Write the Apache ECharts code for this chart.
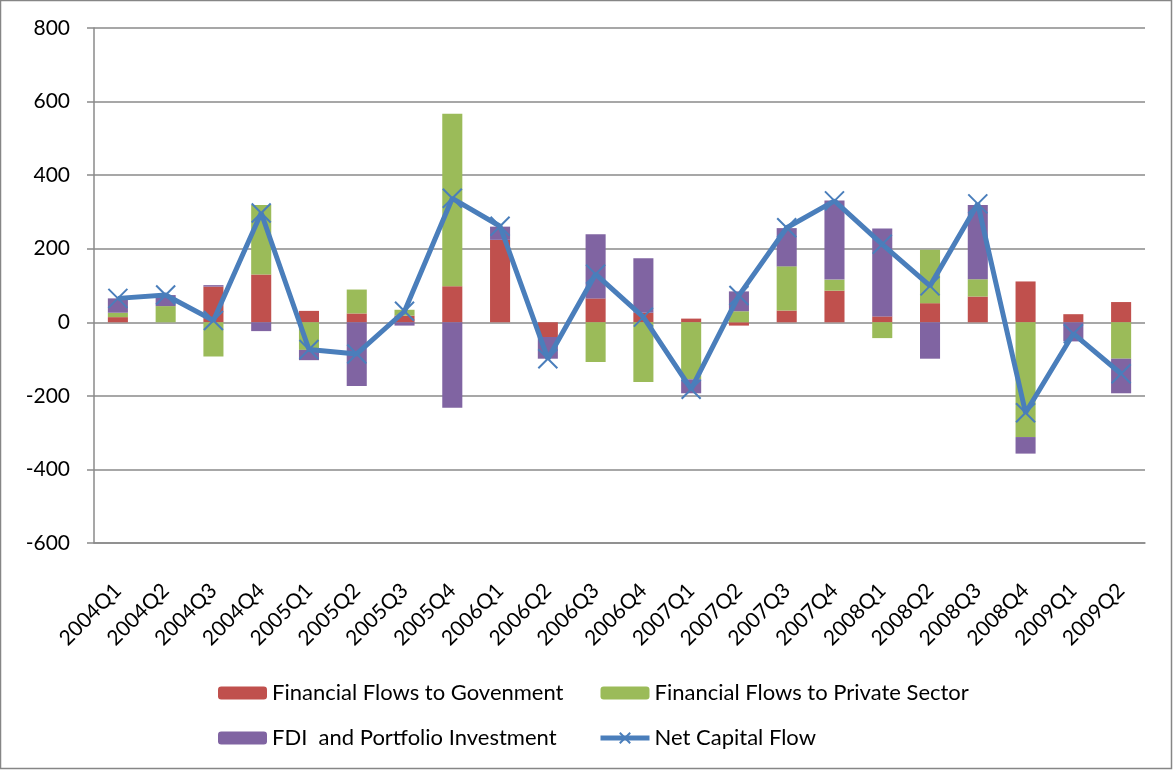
<!DOCTYPE html>
<html>
<head>
<meta charset="utf-8">
<script src="https://cdn.jsdelivr.net/npm/echarts@6/dist/echarts.min.js"></script>
<style>
  html, body { margin: 0; padding: 0; background: #fff; }
  #chart { width: 1173px; height: 770px; }
</style>
</head>
<body>
<div id="chart"></div>
<script>
// Quarterly capital flows, 2004Q1 – 2009Q2
const quarters = ['2004Q1','2004Q2','2004Q3','2004Q4','2005Q1','2005Q2','2005Q3','2005Q4',
  '2006Q1','2006Q2','2006Q3','2006Q4','2007Q1','2007Q2','2007Q3','2007Q4',
  '2008Q1','2008Q2','2008Q3','2008Q4','2009Q1','2009Q2'];

const flowsToGovernment = [14, 0, 97, 130, 31, 24, 18, 98, 224, -40, 65, 26, 10, -9, 32, 86, 16, 52, 70, 111, 22, 55];
const flowsToPrivate    = [12, 44, -93, 189, -75, 65, 16, 469, 0, 0, -108, -162, -155, 30, 120, 30, -43, 145, 47, -312, 0, -99];
const fdiPortfolio      = [39, 30, 4, -24, -28, -173, -9, -232, 36, -59, 174, 148, -38, 54, 104, 215, 239, -99, 202, -45, -52, -94];
const netCapitalFlow    = [65, 74, 5, 297, -74, -86, 30, 337, 261, -99, 131, 14, -182, 73, 257, 330, 212, 99, 322, -246, -31, -140];

const yTicks = { min: -600, max: 800, interval: 200 };

const gridColor = '#8a8a8a';
const lineBlue = '#4A7EBB';
const font = 'Lato, "Open Sans", sans-serif';
const xMark = 'path://M0,0L10,10M10,0L0,10';

const chart = echarts.init(document.getElementById('chart'));

const barSeries = (name, data, color) => ({
  name, type: 'bar', stack: 'flows', data,
  barWidth: '42%',
  itemStyle: { color },
  emphasis: { disabled: true },
  z: 2
});

const legendText = { fontFamily: font, fontSize: 22, color: '#000', lineHeight: 24 };

chart.setOption({
  animation: false,
  backgroundColor: '#fff',
  textStyle: { fontFamily: font, color: '#000' },
  grid: { left: 94, right: 28, top: 28, bottom: 227, containLabel: false },
  graphic: [{
    type: 'rect',
    shape: { x: 0.5, y: 0.5, width: 1171, height: 768 },
    style: { fill: 'none', stroke: '#868686', lineWidth: 1.5 },
    silent: true
  }],
  legend: [{
    data: ['Financial Flows to Govenment', 'FDI  and Portfolio Investment'],
    orient: 'vertical', left: 213, top: 676,
    itemWidth: 49, itemHeight: 13, itemGap: 21,
    textStyle: legendText
  }, {
    data: [
      'Financial Flows to Private Sector',
      {
        name: 'Net Capital Flow',
        itemStyle: { color: 'rgba(0,0,0,0)', borderColor: lineBlue, borderWidth: 2 },
        lineStyle: { color: lineBlue, width: 5 }
      }
    ],
    orient: 'vertical', left: 593, top: 676,
    itemWidth: 49, itemHeight: 13, itemGap: 21,
    textStyle: legendText
  }],
  xAxis: {
    type: 'category',
    data: quarters,
    axisLine: { onZero: false, lineStyle: { color: gridColor, width: 1.5 } },
    axisTick: { show: false },
    axisLabel: { rotate: 45, margin: 44, fontSize: 21, fontFamily: font, color: '#000', interval: 0 }
  },
  yAxis: {
    type: 'value',
    min: yTicks.min, max: yTicks.max, interval: yTicks.interval,
    axisLine: { show: true, lineStyle: { color: gridColor, width: 1.5 } },
    axisTick: { show: true, length: 7, lineStyle: { color: gridColor, width: 1.5 } },
    axisLabel: { margin: 24, fontSize: 21, fontFamily: font, color: '#000' },
    splitLine: { lineStyle: { color: gridColor, width: 1.5 } }
  },
  series: [
    barSeries('Financial Flows to Govenment', flowsToGovernment, '#C0504D'),
    barSeries('Financial Flows to Private Sector', flowsToPrivate, '#9BBB59'),
    barSeries('FDI  and Portfolio Investment', fdiPortfolio, '#8064A2'),
    {
      name: 'Net Capital Flow', type: 'line', data: netCapitalFlow,
      symbol: xMark,
      symbolSize: 19,
      lineStyle: { color: lineBlue, width: 5 },
      itemStyle: { color: 'rgba(0,0,0,0)', borderColor: lineBlue, borderWidth: 2 },
      emphasis: { disabled: true },
      z: 5
    }
  ]
});
</script>
</body>
</html>
